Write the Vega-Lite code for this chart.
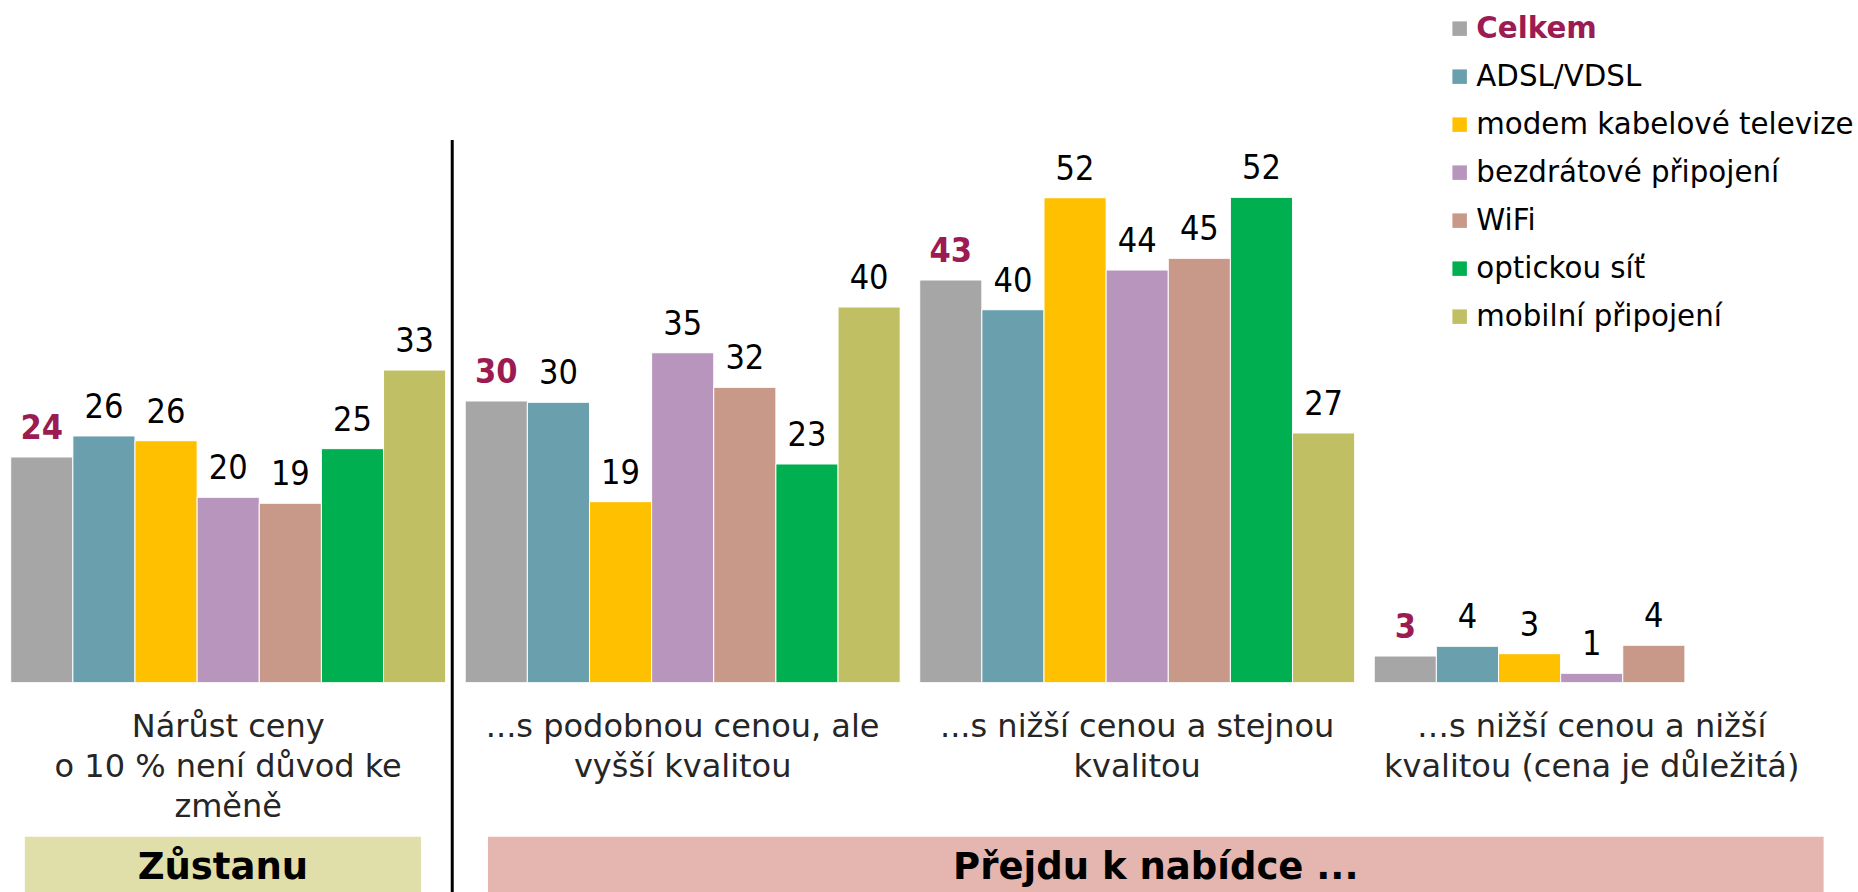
{
  "$schema": "https://vega.github.io/schema/vega-lite/v6.json",
  "width": 1858,
  "height": 892,
  "autosize": {"type": "none"},
  "padding": 0,
  "background": "white",
  "config": {"view": {"stroke": null}, "font": "DejaVu Sans"},
  "datasets": {
    "bars": [
      {"group": "Nárůst ceny\no 10 % není důvod ke\nzměně", "series": "Celkem", "value": 24.14},
      {"group": "Nárůst ceny\no 10 % není důvod ke\nzměně", "series": "ADSL/VDSL", "value": 26.39},
      {"group": "Nárůst ceny\no 10 % není důvod ke\nzměně", "series": "modem kabelové televize", "value": 25.88},
      {"group": "Nárůst ceny\no 10 % není důvod ke\nzměně", "series": "bezdrátové připojení", "value": 19.83},
      {"group": "Nárůst ceny\no 10 % není důvod ke\nzměně", "series": "WiFi", "value": 19.19},
      {"group": "Nárůst ceny\no 10 % není důvod ke\nzměně", "series": "optickou síť", "value": 25.03},
      {"group": "Nárůst ceny\no 10 % není důvod ke\nzměně", "series": "mobilní připojení", "value": 33.44},
      {"group": "...s podobnou cenou, ale\nvyšší kvalitou", "series": "Celkem", "value": 30.13},
      {"group": "...s podobnou cenou, ale\nvyšší kvalitou", "series": "ADSL/VDSL", "value": 29.99},
      {"group": "...s podobnou cenou, ale\nvyšší kvalitou", "series": "modem kabelové televize", "value": 19.36},
      {"group": "...s podobnou cenou, ale\nvyšší kvalitou", "series": "bezdrátové připojení", "value": 35.29},
      {"group": "...s podobnou cenou, ale\nvyšší kvalitou", "series": "WiFi", "value": 31.59},
      {"group": "...s podobnou cenou, ale\nvyšší kvalitou", "series": "optickou síť", "value": 23.39},
      {"group": "...s podobnou cenou, ale\nvyšší kvalitou", "series": "mobilní připojení", "value": 40.18},
      {"group": "...s nižší cenou a stejnou\nkvalitou", "series": "Celkem", "value": 43.07},
      {"group": "...s nižší cenou a stejnou\nkvalitou", "series": "ADSL/VDSL", "value": 39.89},
      {"group": "...s nižší cenou a stejnou\nkvalitou", "series": "modem kabelové televize", "value": 51.87},
      {"group": "...s nižší cenou a stejnou\nkvalitou", "series": "bezdrátové připojení", "value": 44.14},
      {"group": "...s nižší cenou a stejnou\nkvalitou", "series": "WiFi", "value": 45.39},
      {"group": "...s nižší cenou a stejnou\nkvalitou", "series": "optickou síť", "value": 51.91},
      {"group": "...s nižší cenou a stejnou\nkvalitou", "series": "mobilní připojení", "value": 26.71},
      {"group": "…s nižší cenou a nižší\nkvalitou (cena je důležitá)", "series": "Celkem", "value": 2.85},
      {"group": "…s nižší cenou a nižší\nkvalitou (cena je důležitá)", "series": "ADSL/VDSL", "value": 3.89},
      {"group": "…s nižší cenou a nižší\nkvalitou (cena je důležitá)", "series": "modem kabelové televize", "value": 3.1},
      {"group": "…s nižší cenou a nižší\nkvalitou (cena je důležitá)", "series": "bezdrátové připojení", "value": 1.0},
      {"group": "…s nižší cenou a nižší\nkvalitou (cena je důležitá)", "series": "WiFi", "value": 4.0}
    ]
  },
  "resolve": {"scale": {"x": "independent"}},
  "layer": [
    {
      "data": {"name": "bars"},
      "layer": [
        {
          "mark": {"type": "bar", "stroke": "white", "strokeWidth": 1},
          "encoding": {
            "x": {
              "field": "group", "type": "nominal", "axis": null,
              "scale": {
                "domain": [
                  "Nárůst ceny\no 10 % není důvod ke\nzměně",
                  "...s podobnou cenou, ale\nvyšší kvalitou",
                  "...s nižší cenou a stejnou\nkvalitou",
                  "…s nižší cenou a nižší\nkvalitou (cena je důležitá)"
                ],
                "paddingInner": 0.043, "paddingOuter": 0.0655, "align": 0.18
              }
            },
            "xOffset": {
              "field": "series", "type": "nominal",
              "scale": {
                "domain": ["Celkem", "ADSL/VDSL", "modem kabelové televize", "bezdrátové připojení", "WiFi", "optickou síť", "mobilní připojení"],
                "paddingInner": 0, "paddingOuter": 0
              }
            },
            "y": {
              "field": "value", "type": "quantitative", "axis": null, "stack": null,
              "scale": {"domain": [-22.39, 73.02], "nice": false, "zero": false}
            },
            "color": {
              "field": "series", "type": "nominal",
              "scale": {
                "domain": ["Celkem", "ADSL/VDSL", "modem kabelové televize", "bezdrátové připojení", "WiFi", "optickou síť", "mobilní připojení"],
                "range": ["#A6A6A6", "#6A9FAD", "#FFC000", "#B895BD", "#C89888", "#00B050", "#C0BF63"]
              },
              "legend": {
                "title": null, "orient": "none", "legendX": 1445, "legendY": 14,
                "symbolType": "square", "symbolSize": 210, "symbolStrokeWidth": 0, "symbolOpacity": 1,
                "labelFontSize": 29.3, "labelFont": "DejaVu Sans", "labelOffset": 2, "labelLimit": 600,
                "rowPadding": 18, "padding": 0,
                "labelColor": {"expr": "datum.value === 'Celkem' ? '#9B1B52' : '#000000'"},
                "labelFontWeight": {"expr": "datum.value === 'Celkem' ? 'bold' : 'normal'"}
              }
            }
          }
        },
        {
          "transform": [{"filter": "datum.series !== 'Celkem'"}],
          "mark": {"type": "text", "font": "DejaVu Sans Condensed", "fontSize": 34, "dy": -18, "baseline": "alphabetic", "align": "center", "color": "#000000"},
          "encoding": {
            "x": {"field": "group", "type": "nominal"},
            "xOffset": {"field": "series", "type": "nominal"},
            "y": {"field": "value", "type": "quantitative"},
            "text": {"field": "value", "type": "quantitative", "format": ".0f"}
          }
        },
        {
          "transform": [{"filter": "datum.series === 'Celkem'"}],
          "mark": {"type": "text", "font": "DejaVu Sans Condensed", "fontWeight": "bold", "fontSize": 34, "dy": -18, "baseline": "alphabetic", "align": "center", "color": "#9B1B52"},
          "encoding": {
            "x": {"field": "group", "type": "nominal"},
            "xOffset": {"field": "series", "type": "nominal"},
            "y": {"field": "value", "type": "quantitative"},
            "text": {"field": "value", "type": "quantitative", "format": ".0f"}
          }
        },
        {
          "transform": [{"filter": "datum.series === 'Celkem'"}],
          "mark": {"type": "text", "lineBreak": "\n", "fontSize": 32, "lineHeight": 40.3, "color": "#262626", "baseline": "alphabetic", "align": "center"},
          "encoding": {
            "x": {"field": "group", "type": "nominal"},
            "y": {"datum": -5.78},
            "text": {"field": "group", "type": "nominal"}
          }
        }
      ]
    },
    {
      "layer": [
        {
          "data": {"values": [{"label": "Zůstanu"}]},
          "layer": [
            {
              "mark": {"type": "rect", "color": "#E0DFA9"},
              "encoding": {
                "x": {"datum": 0.0527, "type": "quantitative", "axis": null, "scale": {"domain": [-0.002, 4.086], "nice": false, "zero": false}},
                "x2": {"datum": 0.9242},
                "y": {"datum": -16.47},
                "y2": {"datum": -22.39}
              }
            },
            {
              "mark": {"type": "text", "fontWeight": "bold", "fontSize": 37, "color": "#000000", "align": "center", "baseline": "alphabetic"},
              "encoding": {
                "x": {"datum": 0.4885, "type": "quantitative"},
                "y": {"datum": -21.0},
                "text": {"field": "label", "type": "nominal"}
              }
            }
          ]
        },
        {
          "data": {"values": [{"label": "Přejdu k nabídce ..."}]},
          "layer": [
            {
              "mark": {"type": "rect", "color": "#E5B5B0"},
              "encoding": {
                "x": {"datum": 1.0716, "type": "quantitative"},
                "x2": {"datum": 4.0103},
                "y": {"datum": -16.47},
                "y2": {"datum": -22.39}
              }
            },
            {
              "mark": {"type": "text", "fontWeight": "bold", "fontSize": 37, "color": "#000000", "align": "center", "baseline": "alphabetic"},
              "encoding": {
                "x": {"datum": 2.541, "type": "quantitative"},
                "y": {"datum": -21.0},
                "text": {"field": "label", "type": "nominal"}
              }
            }
          ]
        },
        {
          "data": {"values": [{"divider": "Zůstanu | Přejdu"}]},
          "mark": {"type": "rule", "color": "#000000", "strokeWidth": 3},
          "encoding": {
            "x": {"datum": 0.993, "type": "quantitative"},
            "y": {"datum": 58.04},
            "y2": {"datum": -22.39}
          }
        }
      ]
    }
  ]
}
